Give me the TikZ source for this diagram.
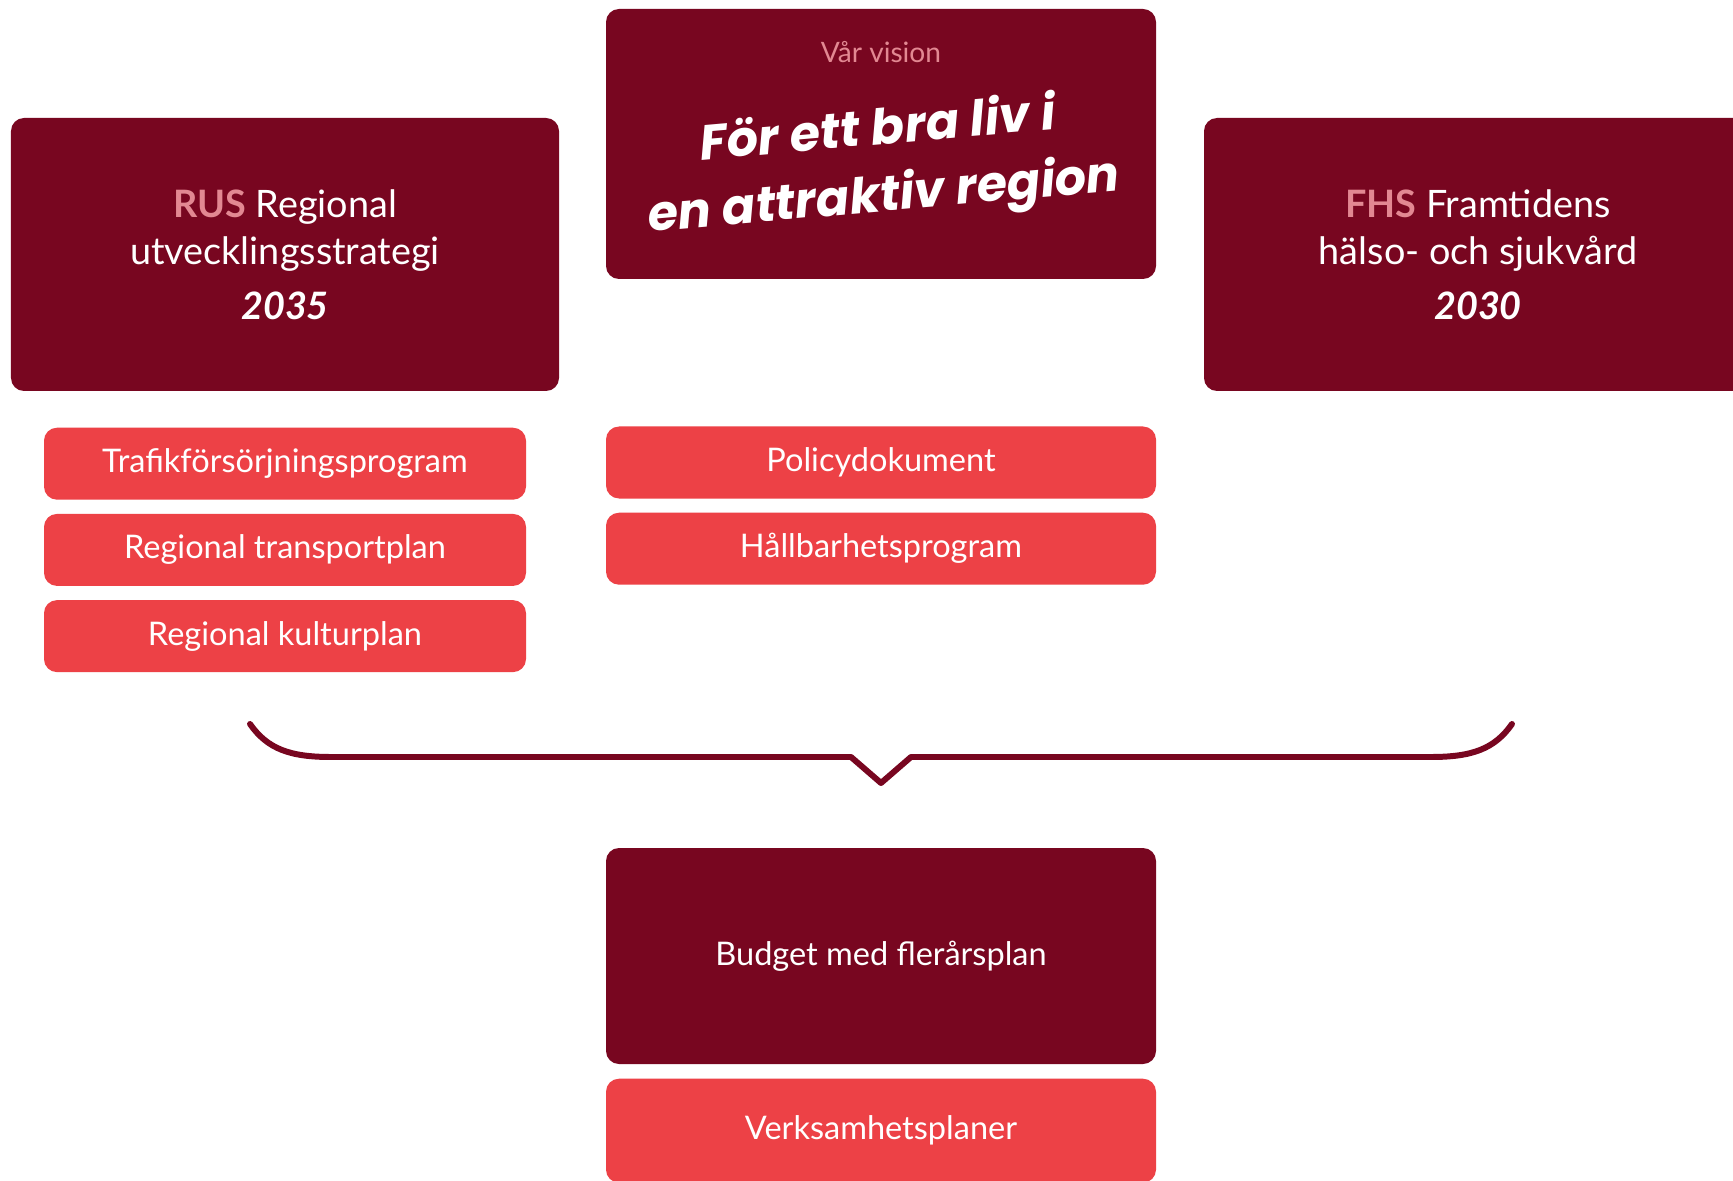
\documentclass[tikz,border=0pt]{standalone}
\usepackage{fontspec}
\setmainfont{Lato}
\newfontfamily\visionfont{Poppins}
\usetikzlibrary{positioning}
\definecolor{vinrod}{RGB}{120,6,32}
\definecolor{ljusrod}{RGB}{237,65,70}
\definecolor{rosa}{RGB}{226,136,146}
\tikzset{
	storruta/.style={fill=vinrod,rounded corners=0.26cm,text=white,align=center,minimum width=10.96cm,minimum height=5.46cm,font=\fontsize{21.5}{27}\selectfont},
	planruta/.style={fill=ljusrod,rounded corners=0.26cm,text=white,minimum width=9.64cm,minimum height=1.44cm,font=\fontsize{18.5}{20}\selectfont},
}

\begin{document}
\begin{tikzpicture}
	\fill[white] (0,0) rectangle (34.66,-23.62);
	\clip (0,0) rectangle (34.66,-23.62);
	% vision
	\node[storruta,minimum width=11cm,minimum height=5.4cm](V) at (17.62,-2.88){};
	\node[text=rosa,font=\fontsize{16}{19}\selectfont](V1) at (17.62,-1.04){Vår vision};
	\node[text=white,rotate=5,align=center,font=\visionfont\bfseries\itshape\fontsize{28}{38}\selectfont](V2) at (17.62,-3.3){För ett bra liv i\\en attraktiv region};
	% strategier
	\node[storruta](R) at (5.7,-5.09){\textcolor{rosa}{\bfseries RUS} Regional\\utvecklingsstrategi\\[4pt]\bfseries\itshape 2035};
	\node[storruta](F) at (29.56,-5.09){\textcolor{rosa}{\bfseries FHS} Framtidens\\hälso- och sjukvård\\[4pt]\bfseries\itshape 2030};
	\node[planruta,below=0.72cm of R](R1){Trafikförsörjningsprogram};
	\node[planruta,below=0.27cm of R1](R2){Regional transportplan};
	\node[planruta,below=0.27cm of R2](R3){Regional kulturplan};
	\node[planruta,minimum width=11cm](M1) at (17.62,-9.25){Policydokument};
	\node[planruta,minimum width=11cm,below=0.27cm of M1](M2){Hållbarhetsprogram};
	% klammer
	\coordinate (K1) at (5.0,-14.48);
	\coordinate (K0) at (17.62,-15.66);
	\coordinate (K2) at (30.24,-14.48);
	\draw[vinrod,line width=3.4pt,line cap=round,line join=round] (K1) .. controls (5.35,-14.98) and (5.8,-15.14) .. (6.62,-15.14) -- (17.02,-15.14) -- (K0) -- (18.22,-15.14) -- (28.62,-15.14) .. controls (29.44,-15.14) and (29.89,-14.98) .. (K2);
	% budget
	\node[storruta,minimum width=11cm,minimum height=4.32cm,font=\fontsize{18.5}{20}\selectfont](B) at (17.62,-19.12){Budget med flerårsplan};
	\node[planruta,minimum width=11cm,minimum height=2.08cm,below=0.28cm of B](B1){Verksamhetsplaner};
\end{tikzpicture}
\end{document}
